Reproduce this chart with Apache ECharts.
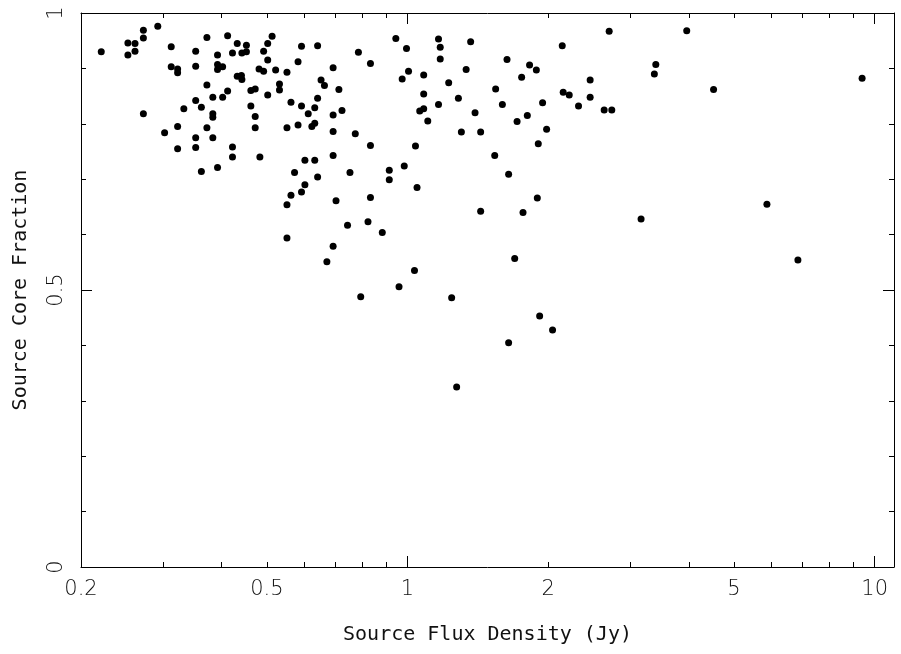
<!DOCTYPE html>
<html><head><meta charset="utf-8">
<script src="https://cdn.jsdelivr.net/npm/echarts@6/dist/echarts.min.js"></script>
<style>html,body{margin:0;padding:0;background:#fff}#c{width:901px;height:654px}</style>
</head><body><div id="c"></div>
<script>
const flux = [
0.221,0.252,0.252,0.261,0.261,0.272,0.272,0.292,0.272,0.312,
0.312,0.322,0.322,0.302,0.322,0.322,0.332,0.352,0.352,0.352,
0.352,0.352,0.362,0.372,0.372,0.372,0.383,0.383,0.383,0.383,
0.392,0.392,0.392,0.402,0.402,0.412,0.412,0.422,0.422,0.422,
0.432,0.432,0.441,0.442,0.442,0.452,0.452,0.462,0.462,0.472,
0.472,0.472,0.483,0.481,0.492,0.492,0.502,0.513,0.502,0.502,
0.522,0.532,0.532,0.552,0.552,0.563,0.583,0.583,0.593,0.593,
0.603,0.613,0.633,0.633,0.624,0.633,0.642,0.642,0.653,0.664,
0.693,0.693,0.693,0.693,0.713,0.724,0.773,0.785,0.833,0.833,
0.944,0.995,1.005,0.974,1.040,1.083,1.083,1.062,1.083,1.105,
1.165,1.175,1.175,1.165,1.225,1.285,1.304,1.335,1.365,1.395,
1.434,1.537,1.544,1.596,1.633,1.716,1.755,1.805,1.825,1.887,
1.905,1.946,1.985,2.144,2.154,2.219,2.323,2.46,2.46,2.636,
2.737,2.702,3.162,3.376,3.40,3.96,4.52,5.88,6.85,9.40,
0.362,0.392,0.573,0.642,0.753,0.914,0.914,0.984,0.603,0.593,
0.563,0.552,0.703,0.833,0.744,0.823,0.883,0.552,0.693,0.672,
1.035,0.959,0.794,1.048,1.646,1.896,1.434,1.767,1.696,1.243,
1.918,2.044,1.646,1.274
];
const coreFraction = [
0.930,0.946,0.924,0.945,0.931,0.969,0.955,0.976,0.818,0.939,
0.903,0.899,0.892,0.784,0.795,0.755,0.827,0.931,0.904,0.842,
0.775,0.757,0.830,0.956,0.870,0.793,0.848,0.818,0.812,0.775,
0.924,0.907,0.898,0.903,0.848,0.959,0.859,0.928,0.758,0.740,
0.945,0.886,0.887,0.880,0.928,0.942,0.930,0.860,0.832,0.863,
0.813,0.793,0.740,0.899,0.895,0.931,0.945,0.958,0.915,0.852,
0.897,0.872,0.861,0.893,0.793,0.839,0.912,0.798,0.940,0.832,
0.734,0.818,0.829,0.801,0.795,0.734,0.941,0.846,0.879,0.869,
0.901,0.816,0.786,0.743,0.862,0.824,0.782,0.929,0.909,0.761,
0.954,0.936,0.895,0.881,0.760,0.888,0.854,0.823,0.827,0.805,
0.953,0.938,0.917,0.835,0.874,0.846,0.785,0.898,0.948,0.820,
0.785,0.743,0.863,0.835,0.916,0.804,0.884,0.815,0.906,0.897,
0.764,0.838,0.790,0.941,0.857,0.852,0.832,0.879,0.848,0.825,
0.825,0.967,0.628,0.890,0.907,0.968,0.862,0.655,0.554,0.882,
0.714,0.721,0.712,0.704,0.712,0.716,0.699,0.724,0.690,0.677,
0.671,0.654,0.661,0.667,0.617,0.623,0.604,0.594,0.579,0.551,
0.535,0.506,0.488,0.685,0.709,0.666,0.642,0.640,0.557,0.486,
0.453,0.428,0.405,0.325
];
const xLabelValues = [0.2, 0.5, 1, 2, 5, 10];
const xMajorTicks = [1, 10];
const xMinorTicks = [0.3,0.4,0.5,0.6,0.7,0.8,0.9,2,3,4,5,6,7,8,9];
const yLabelValues = [0, 0.5, 1];
const xTitle = 'Source Flux Density (Jy)';
const yTitle = 'Source Core Fraction';

const INK = '#000';
const labelFont = {color: '#111', fontFamily: 'DejaVu Sans', fontSize: 21, fontWeight: 'lighter'};
const titleFont = {color: '#111', fontFamily: 'DejaVu Sans Mono', fontSize: 20, fontWeight: 'lighter'};

function xAxisDef(pos, ticks, len, withLine, withLabels) {
  return {
    type: 'log', logBase: 10, min: 0.2, max: 11, position: pos,
    axisLine: {show: withLine, lineStyle: {color: INK, width: 1}},
    axisTick: {show: true, inside: true, length: len, customValues: ticks, lineStyle: {color: INK, width: 1}},
    axisLabel: withLabels ? Object.assign({show: true, margin: 12, customValues: xLabelValues,
      formatter: v => String(+(+v).toPrecision(3))}, labelFont) : {show: false},
    splitLine: {show: false}, minorTick: {show: false}, minorSplitLine: {show: false},
    name: withLabels ? xTitle : '', nameLocation: 'middle', nameGap: 58,
    nameTextStyle: titleFont
  };
}
function yAxisDef(pos, withLabels) {
  return {
    type: 'value', min: 0, max: 1, interval: 0.5, position: pos,
    axisLine: {show: true, lineStyle: {color: INK, width: 1}},
    axisTick: {show: true, inside: true, length: 11, lineStyle: {color: INK, width: 1}},
    minorTick: {show: true, splitNumber: 5, length: 5, lineStyle: {color: INK, width: 1}},
    axisLabel: withLabels ? Object.assign({show: true, rotate: 90, margin: 14, customValues: yLabelValues,
      formatter: v => String(v)}, labelFont) : {show: false},
    splitLine: {show: false},
    name: withLabels ? yTitle : '', nameLocation: 'middle', nameGap: 50, nameRotate: 90,
    nameTextStyle: titleFont
  };
}

const chart = echarts.init(document.getElementById('c'), null, {renderer: 'canvas'});
chart.setOption({
  animation: false,
  backgroundColor: '#fff',
  grid: {left: 81, right: 7, top: 13, bottom: 87, containLabel: false},
  xAxis: [
    xAxisDef('bottom', xMajorTicks, 11, true, true),
    xAxisDef('bottom', xMinorTicks, 5, false, false),
    xAxisDef('top', xMajorTicks, 11, true, false),
    xAxisDef('top', xMinorTicks, 5, false, false)
  ],
  yAxis: [yAxisDef('left', true), yAxisDef('right', false)],
  series: [{
    type: 'scatter', xAxisIndex: 0, yAxisIndex: 0,
    symbol: 'circle', symbolSize: 7,
    itemStyle: {color: '#000', opacity: 1},
    silent: true,
    data: flux.map((f, i) => [f, coreFraction[i]])
  }]
});
</script></body></html>
